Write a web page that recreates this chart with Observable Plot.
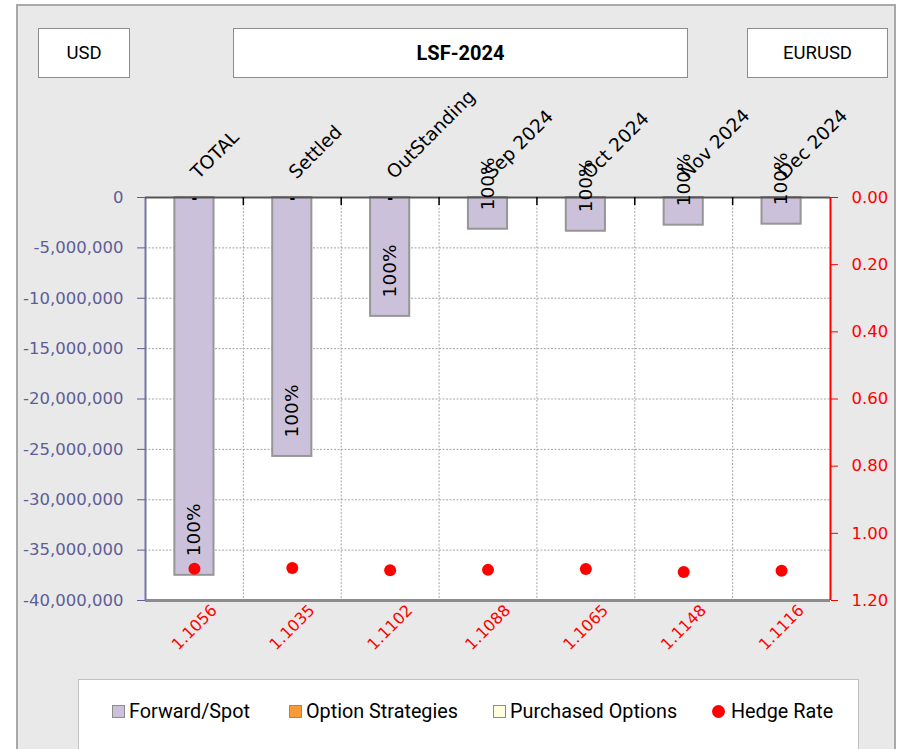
<!DOCTYPE html>
<html>
<head>
<meta charset="utf-8">
<script src="https://cdn.jsdelivr.net/npm/d3@7"></script>
<script src="https://cdn.jsdelivr.net/npm/@observablehq/plot@0.6"></script>
<style>
  body { margin: 0; background: #ffffff; }
  #wrap { position: relative; width: 898px; height: 749px; overflow: hidden; background: #ffffff; }
  #frame { position: absolute; left: 16px; top: 4px; width: 880px; height: 770px; background: #e9e9e9; border: 2px solid #a9a9a9; box-sizing: border-box; }
  #chart { position: absolute; left: 0; top: 0; }
  #chart svg { background: transparent !important; overflow: visible; }
  .hbox { position: absolute; top: 28px; height: 50px; background: #ffffff; border: 1.5px solid #8c8c8c; box-sizing: border-box;
          display: flex; align-items: center; justify-content: center; font-family: Roboto, sans-serif; font-size: 18.5px; color: #000; z-index: 2; }
  #legend { position: absolute; left: 78px; top: 679px; width: 781px; height: 80px; background: #fff; border: 1.5px solid #c0c0c0; box-sizing: border-box; z-index: 2; }
  .litem { position: absolute; top: 20px; display: flex; align-items: center; font-family: Roboto, sans-serif; font-size: 19.8px; color: #000; white-space: nowrap; }
  .sw { width: 11px; height: 11px; border: 1.5px solid #8c8c8c; margin-right: 4px; box-sizing: content-box; }
  .sw.dot { border: none; border-radius: 50%; width: 13px; height: 13px; margin-right: 6px; }
</style>
</head>
<body>
<div id="wrap">
  <div id="frame"></div>
  <div id="chart"></div>
  <div id="legend"></div>
</div>
<script>
// ---- data ----
const categories = ["TOTAL", "Settled", "OutStanding", "Sep 2024", "Oct 2024", "Nov 2024", "Dec 2024"];
const forwardSpot = [-37500000, -25700000, -11800000, -3150000, -3350000, -2750000, -2650000];
const hedgeRate = [1.1056, 1.1035, 1.1102, 1.1088, 1.1065, 1.1148, 1.1116];
const hedgePercent = ["100%", "100%", "100%", "100%", "100%", "100%", "100%"];
const otherSeriesLabels = ["-", "-", "-", "", "", "", ""];
const leftTicks = [0, -5000000, -10000000, -15000000, -20000000, -25000000, -30000000, -35000000, -40000000];
const rightTicks = [0, 0.2, 0.4, 0.6, 0.8, 1.0, 1.2];
const headerLabels = ["USD", "LSF-2024", "EURUSD"];
const legendLabels = ["Forward/Spot", "Option Strategies", "Purchased Options", "Hedge Rate"];
const legendColors = ["#ccc1da", "#f79b3a", "#ffffe0", "#ff0000"];

// ---- derived table ----
const leftMin = leftTicks[leftTicks.length - 1];
const rightMax = rightTicks[rightTicks.length - 1];
const K = -leftMin / rightMax; // maps hedge rate onto the left (USD) scale, axis reversed
const rows = categories.map((c, i) => ({
  i, cat: c, value: forwardSpot[i], rate: hedgeRate[i], pct: hedgePercent[i], other: otherSeriesLabels[i]
}));
const boundaries = d3.range(0, categories.length + 1);

const axisBlue = "#5e5e96";

const chart = Plot.plot({
  width: 898,
  height: 690,
  marginLeft: 145,
  marginRight: 68,
  marginTop: 197,
  marginBottom: 90,
  style: { fontFamily: "DejaVu Sans", fontSize: "16px", background: "transparent", color: "#000" },
  x: { type: "linear", domain: [0, categories.length], axis: null },
  y: { domain: [leftMin, 0], axis: null },
  marks: [
    Plot.frame({ fill: "#ffffff", stroke: null }),
    // horizontal grid
    Plot.ruleY(leftTicks.slice(1, -1), { stroke: "#a6a6a6", strokeDasharray: "2,1.5", strokeWidth: 1 }),
    // vertical grid at category boundaries
    Plot.ruleX(boundaries.slice(1, -1), { stroke: "#a6a6a6", strokeDasharray: "2,1.5", strokeWidth: 1 }),
    // bars
    Plot.rect(rows, {
      x1: d => d.i + 0.3, x2: d => d.i + 0.7, y1: 0, y2: d => d.value,
      fill: "#ccc1da", stroke: "#969696", strokeWidth: 2
    }),
    // plot borders
    Plot.ruleY([leftMin], { stroke: "#8c8c8c", strokeWidth: 3 }),
    Plot.ruleX([0], { stroke: "#7474a6", strokeWidth: 2 }),
    Plot.ruleX([categories.length], { stroke: "#ff0000", strokeWidth: 2 }),
    Plot.ruleY([0], { stroke: "#555555", strokeWidth: 2 }),
    // category-axis tick marks at the top, pointing into the plot
    Plot.ruleX(boundaries.slice(1, -1), { y1: 0, y2: 0, insetBottom: -8, stroke: "#000", strokeWidth: 1.5 }),
    // left axis
    Plot.axisY(leftTicks, {
      anchor: "left", tickSize: 8, tickPadding: 14, stroke: axisBlue, fill: axisBlue, label: null,
      tickFormat: d => d.toLocaleString("en-US"), fontSize: 16.5
    }),
    // right axis (hedge rate)
    Plot.axisY(rightTicks.map(r => -r * K), {
      anchor: "right", tickSize: 7, tickPadding: 14, stroke: "#ff0000", fill: "#ff0000", label: null,
      tickFormat: v => (Math.abs(v) / K).toFixed(2), fontSize: 16.5
    }),
    // category labels on top
    Plot.text(rows, {
      x: d => d.i + 0.5, y: 0, text: "cat", rotate: -45, textAnchor: "start",
      dy: -22, dx: 0, fontSize: 18.5, fill: "#000"
    }),
    // hedge-rate value labels below
    Plot.text(rows, {
      x: d => d.i + 0.5, y: leftMin, text: d => d.rate.toFixed(4), rotate: -45,
      dy: 27, fontSize: 16, fill: "#ff0000"
    }),
    // other-series data labels
    Plot.text(rows, {
      x: d => d.i + 0.5, y: 0, text: "other", dy: 1, fontSize: 14, fontWeight: "bold", fill: "#000"
    }),
    // percent labels inside bar end
    Plot.text(rows, {
      x: d => d.i + 0.5, y: "value", text: "pct", rotate: -90, textAnchor: "start",
      dy: -19, fontSize: 18.5, fill: "#000"
    }),
    // hedge rate dots
    Plot.dot(rows, { x: d => d.i + 0.5, y: d => -d.rate * K, r: 6, fill: "#ff0000", stroke: null })
  ]
});
document.getElementById("chart").appendChild(chart);

// ---- header boxes ----
const headerPos = [[38, 92], [233, 455], [747, 141]];
const wrap = document.getElementById("wrap");
headerLabels.forEach((t, k) => {
  const b = document.createElement("div");
  b.className = "hbox";
  b.style.left = headerPos[k][0] + "px";
  b.style.width = headerPos[k][1] + "px";
  if (k === 1) { b.style.fontWeight = "bold"; b.style.fontSize = "20px"; }
  b.textContent = t;
  wrap.appendChild(b);
});

// ---- legend ----
const legend = document.getElementById("legend");
const legendX = [33, 210, 414, 633];
legendLabels.forEach((t, k) => {
  const it = document.createElement("div");
  it.className = "litem";
  it.style.left = legendX[k] + "px";
  const sw = document.createElement("span");
  sw.className = k === 3 ? "sw dot" : "sw";
  sw.style.background = legendColors[k];
  const tx = document.createElement("span");
  tx.textContent = t;
  it.appendChild(sw);
  it.appendChild(tx);
  legend.appendChild(it);
});
</script>
</body>
</html>
